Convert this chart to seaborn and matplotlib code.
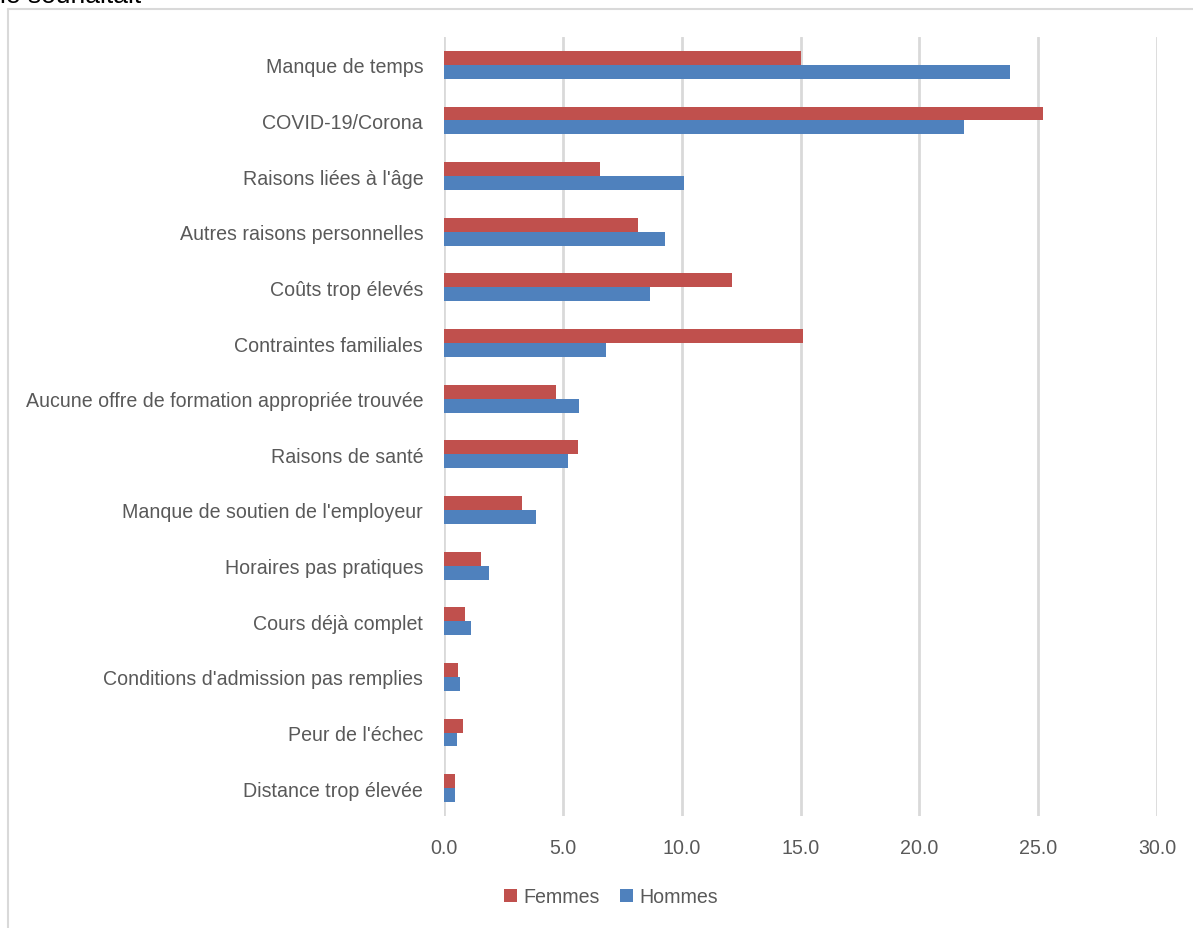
import matplotlib
matplotlib.use("Agg")
import matplotlib.pyplot as plt
from matplotlib.patches import Patch
from matplotlib.lines import Line2D
import seaborn as sns
import pandas as pd

categories = [
    "Manque de temps",
    "COVID-19/Corona",
    "Raisons liées à l'âge",
    "Autres raisons personnelles",
    "Coûts trop élevés",
    "Contraintes familiales",
    "Aucune offre de formation appropriée trouvée",
    "Raisons de santé",
    "Manque de soutien de l'employeur",
    "Horaires pas pratiques",
    "Cours déjà complet",
    "Conditions d'admission pas remplies",
    "Peur de l'échec",
    "Distance trop élevée",
]
femmes = [15.0, 25.2, 6.55, 8.15, 12.1, 15.1, 4.7, 5.65, 3.3, 1.57, 0.88, 0.59, 0.81, 0.48]
hommes = [23.8, 21.9, 10.1, 9.3, 8.65, 6.8, 5.67, 5.22, 3.88, 1.9, 1.12, 0.66, 0.55, 0.48]
series = ["Femmes", "Hommes"]
colors = ["#C0504D", "#4F81BD"]
xticks = [0, 5, 10, 15, 20, 25, 30]

df = pd.DataFrame({
    "cat": categories * 2,
    "val": femmes + hommes,
    "sexe": [series[0]] * len(categories) + [series[1]] * len(categories),
})

sns.set_theme(style="white")
plt.rcParams["font.family"] = ["Liberation Sans", "DejaVu Sans"]

FS = 14.1
TXT = "#595959"

fig = plt.figure(figsize=(11.93, 9.29), dpi=100)
W, H = 1193, 929
ax = fig.add_axes([444 / W, 1 - 817 / H, (1157 - 444) / W, (817 - 38) / H])

sns.barplot(data=df, y="cat", x="val", hue="sexe", palette=colors, orient="h",
            width=0.5, ax=ax, legend=False, saturation=1, edgecolor="none")

ax.set_xlim(0, 30)
ax.set_ylim(len(categories) - 0.5, -0.5)
ax.set_xticks(xticks)
ax.set_xticklabels([f"{t:.1f}" for t in xticks])
ax.set_xlabel("")
ax.set_ylabel("")
for s in ax.spines.values():
    s.set_visible(False)
ax.grid(axis="x", color="#D9D9D9", linewidth=2)
ax.set_axisbelow(True)
ax.tick_params(axis="y", length=0, pad=15, labelsize=FS, labelcolor=TXT)
ax.tick_params(axis="x", length=0, pad=16, labelsize=FS, labelcolor=TXT)

handles = [Patch(facecolor=c, edgecolor="none", label=s) for s, c in zip(series, colors)]
fig.legend(handles=handles, loc="center", bbox_to_anchor=(611 / W, 1 - 898 / H), ncol=2,
           frameon=False, fontsize=FS, handlelength=0.67, handleheight=0.67,
           handletextpad=0.3, columnspacing=1.05, labelcolor=TXT)

# outer chart frame (left and top edges visible)
fig.add_artist(Line2D([8 / W, 8 / W], [1 - 10 / H, 0], transform=fig.transFigure,
                      color="#D9D9D9", linewidth=1.5))
fig.add_artist(Line2D([8 / W, 1], [1 - 10 / H, 1 - 10 / H], transform=fig.transFigure,
                      color="#D9D9D9", linewidth=1.5))

fig.text(0.0, 1 - 3 / H, "le souhaitait", fontsize=19, color="black", va="baseline", ha="left")

fig.savefig("out.png", dpi=100, facecolor="white")
